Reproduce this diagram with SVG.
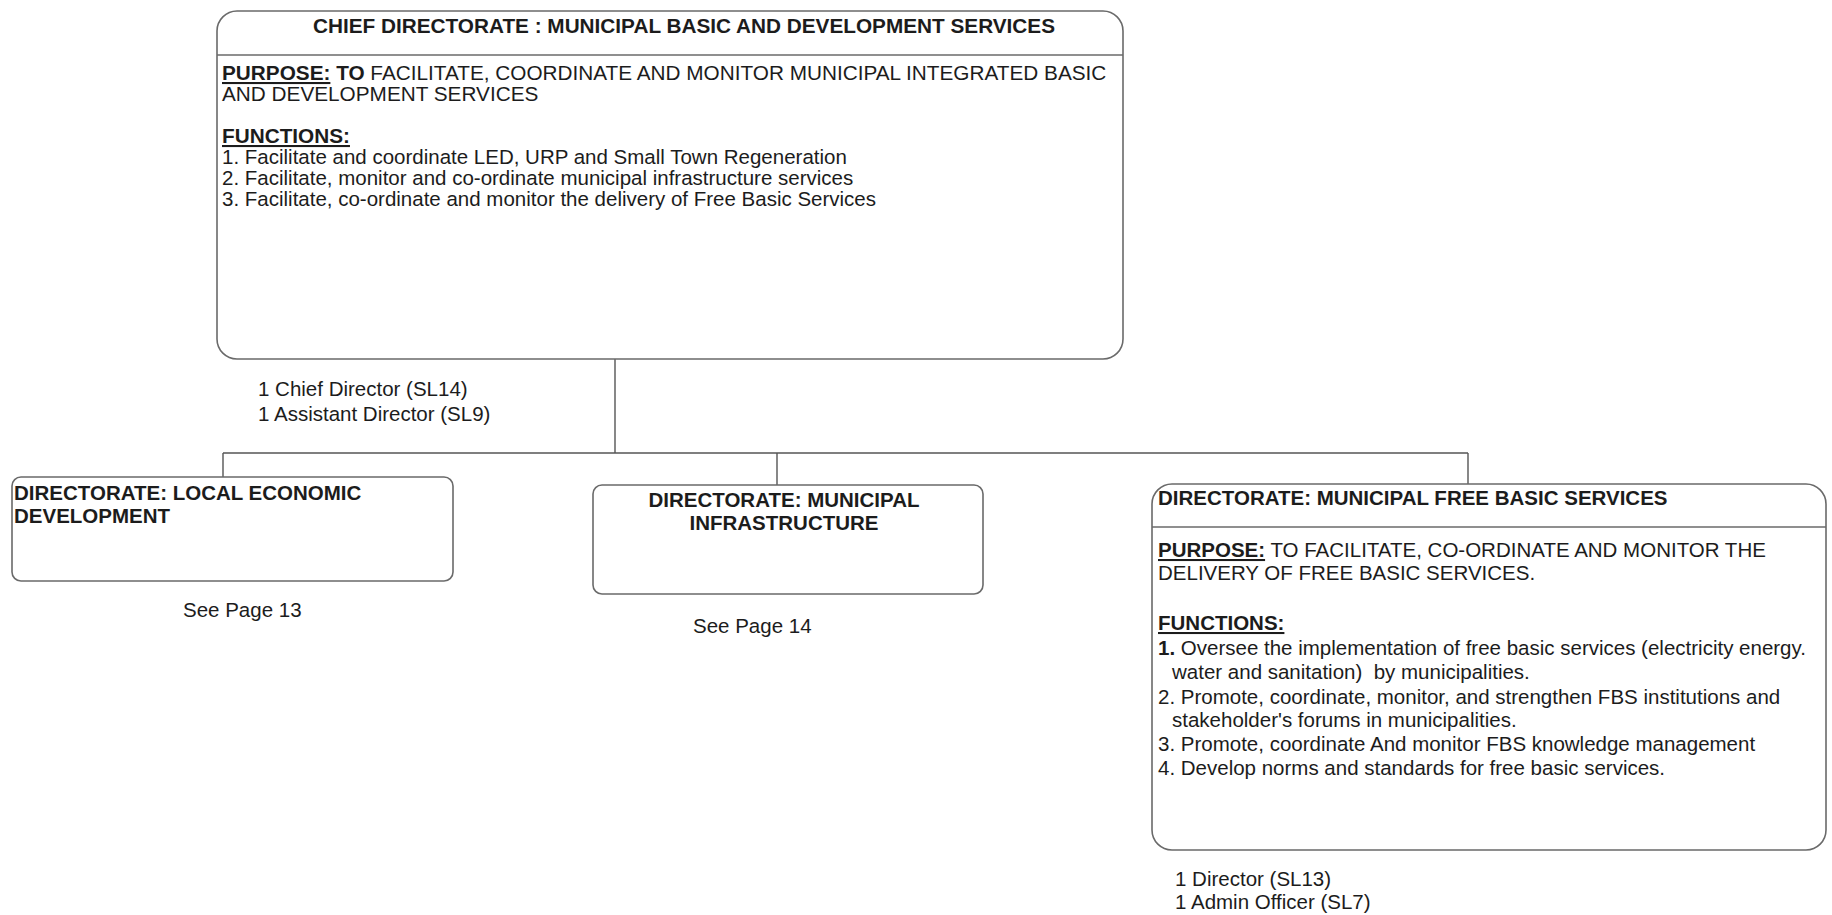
<svg xmlns="http://www.w3.org/2000/svg" width="1832" height="915" viewBox="0 0 1832 915">
<style>
.box{fill:#fff;stroke:#6a6a6a;stroke-width:1.6}
.sep{stroke:#6a6a6a;stroke-width:1.6}
.ln{stroke:#555;stroke-width:1.4;fill:none}
.t{font-family:"Liberation Sans",Arial,sans-serif;font-size:20.5px;fill:#1c1c1c}
.big{font-size:20.75px}
.b{font-weight:bold}
.u{text-decoration:underline}
.c{text-anchor:middle}
</style>
<rect width="1832" height="915" fill="#fff"/>
<g id="connectors">
<line class="ln" x1="615" y1="359" x2="615" y2="453"/>
<line class="ln" x1="223" y1="453" x2="1468" y2="453"/>
<line class="ln" x1="223" y1="453" x2="223" y2="477"/>
<line class="ln" x1="777" y1="453" x2="777" y2="485"/>
<line class="ln" x1="1468" y1="453" x2="1468" y2="484"/>
</g>
<g id="chief-directorate">
<rect class="box" x="217" y="11" width="906" height="348" rx="20"/>
<line class="sep" x1="217" y1="55" x2="1123" y2="55"/>
<text class="t big b c" x="684" y="33">CHIEF DIRECTORATE : MUNICIPAL BASIC AND DEVELOPMENT SERVICES</text>
<text class="t big" x="222" y="80"><tspan class="b u">PURPOSE:</tspan><tspan class="b"> TO</tspan> FACILITATE, COORDINATE AND MONITOR MUNICIPAL INTEGRATED BASIC</text>
<text class="t big" x="222" y="101">AND DEVELOPMENT SERVICES</text>
<text class="t big b u" x="222" y="143">FUNCTIONS:</text>
<text class="t" x="222" y="164">1. Facilitate and coordinate LED, URP and Small Town Regeneration</text>
<text class="t" x="222" y="185">2. Facilitate, monitor and co-ordinate municipal infrastructure services</text>
<text class="t" x="222" y="206">3. Facilitate, co-ordinate and monitor the delivery of Free Basic Services</text>
</g>
<g id="chief-staff">
<text class="t" x="258" y="396">1 Chief Director (SL14)</text>
<text class="t" x="258" y="421">1 Assistant Director (SL9)</text>
</g>
<g id="led">
<rect class="box" x="12" y="477" width="441" height="104" rx="9"/>
<text class="t b" x="14" y="500">DIRECTORATE: LOCAL ECONOMIC</text>
<text class="t b" x="14" y="523">DEVELOPMENT</text>
<text class="t" x="183" y="617">See Page 13</text>
</g>
<g id="infrastructure">
<rect class="box" x="593" y="485" width="390" height="109" rx="9"/>
<text class="t b c" x="784" y="507">DIRECTORATE: MUNICIPAL</text>
<text class="t b c" x="784" y="530">INFRASTRUCTURE</text>
<text class="t" x="693" y="633">See Page 14</text>
</g>
<g id="free-basic-services">
<rect class="box" x="1152" y="484" width="674" height="366" rx="20"/>
<line class="sep" x1="1152" y1="527" x2="1826" y2="527"/>
<text class="t b" x="1158" y="505">DIRECTORATE: MUNICIPAL FREE BASIC SERVICES</text>
<text class="t" x="1158" y="557"><tspan class="b u">PURPOSE:</tspan> TO FACILITATE, CO-ORDINATE AND MONITOR THE</text>
<text class="t" x="1158" y="580">DELIVERY OF FREE BASIC SERVICES.</text>
<text class="t b u" x="1158" y="630">FUNCTIONS:</text>
<text class="t" x="1158" y="655"><tspan class="b">1.</tspan> Oversee the implementation of free basic services (electricity energy.</text>
<text class="t" x="1172" y="679" xml:space="preserve">water and sanitation)  by municipalities.</text>
<text class="t" x="1158" y="704">2. Promote, coordinate, monitor, and strengthen FBS institutions and</text>
<text class="t" x="1172" y="727">stakeholder's forums in municipalities.</text>
<text class="t" x="1158" y="751">3. Promote, coordinate And monitor FBS knowledge management</text>
<text class="t" x="1158" y="775">4. Develop norms and standards for free basic services.</text>
<text class="t" x="1175" y="886">1 Director (SL13)</text>
<text class="t" x="1175" y="909">1 Admin Officer (SL7)</text>
</g>
</svg>
